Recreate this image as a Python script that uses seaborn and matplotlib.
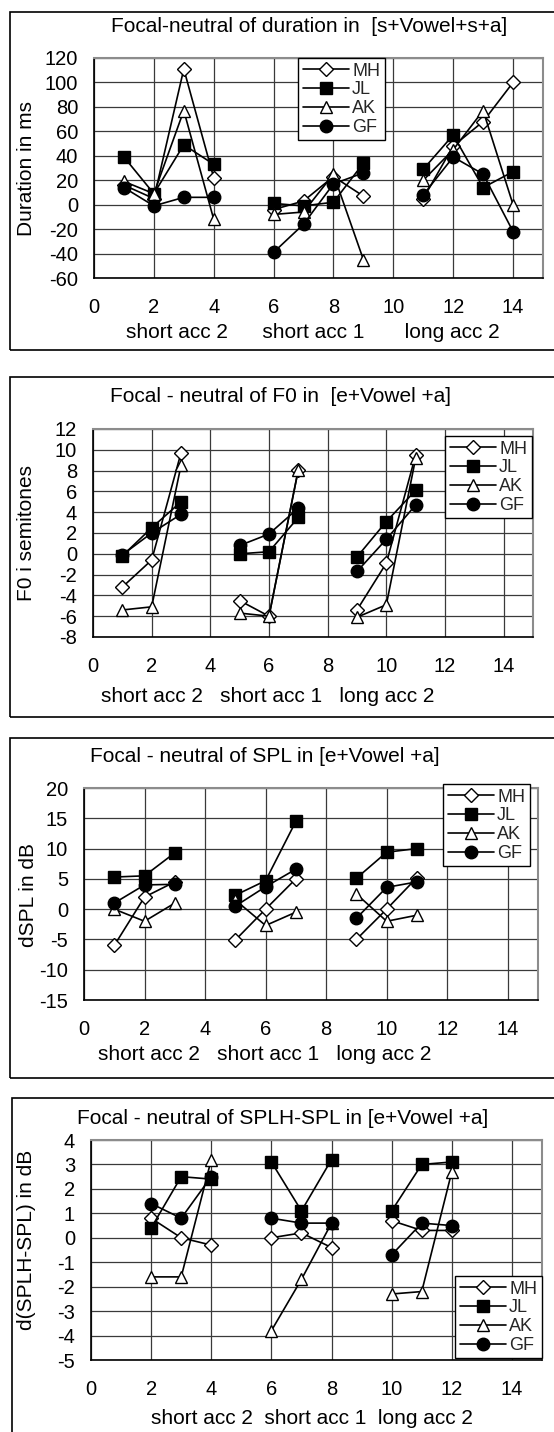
import pandas as pd
import seaborn as sns
import matplotlib.pyplot as plt
from matplotlib.lines import Line2D
from matplotlib.patches import Rectangle

sns.set_style("white")
plt.rcParams["font.family"] = ["Liberation Sans", "DejaVu Sans"]
plt.rcParams["axes.unicode_minus"] = False

# --- data -------------------------------------------------------------
speakers = ["MH", "JL", "AK", "GF"]
groups = ["short acc 2", "short acc 1", "long acc 2"]

# duration in [s+Vowel+s+a]
dur_x = [1, 2, 3, 4, 6, 7, 8, 9, 11, 12, 13, 14]
dur_MH = [16, 5, 111, 22, -4, 3, 23, 7, 5, 48, 68, 100]
dur_JL = [39, 9, 49, 33, 1, -1, 2, 34, 29, 57, 14, 27]
dur_AK = [19, 9, 77, -12, -8, -6, 25, -45, 20, 45, 77, 0]
dur_GF = [14, -1, 6, 6, -39, -16, 17, 26, 8, 39, 25, -22]

# F0 in [e+Vowel +a]
f0_x = [1, 2, 3, 5, 6, 7, 9, 10, 11]
f0_MH = [-3.2, -0.6, 9.7, -4.5, -6.0, 8.1, -5.4, -0.9, 9.5]
f0_JL = [-0.2, 2.5, 5.0, 0.0, 0.2, 3.5, -0.3, 3.1, 6.1]
f0_AK = [-5.4, -5.1, 8.5, -5.7, -6.0, 8.1, -6.1, -4.9, 9.2]
f0_GF = [-0.1, 2.0, 3.8, 0.8, 1.9, 4.4, -1.7, 1.4, 4.7]

# SPL in [e+Vowel +a]
spl_x = [1, 2, 3, 5, 6, 7, 9, 10, 11]
spl_MH = [-6, 2, 4.5, -5.1, 0, 5, -5, 0, 5.2]
spl_JL = [5.3, 5.5, 9.3, 2.3, 4.7, 14.5, 5.1, 9.4, 10]
spl_AK = [0, -2, 1, 1.5, -2.7, -0.5, 2.5, -2, -1]
spl_GF = [1, 4, 4.1, 0.5, 3.7, 6.6, -1.5, 3.6, 4.5]

# SPLH-SPL in [e+Vowel +a]
splh_x = [2, 3, 4, 6, 7, 8, 10, 11, 12]
splh_MH = [0.8, 0, -0.3, 0, 0.2, -0.4, 0.7, 0.3, 0.3]
splh_JL = [0.4, 2.5, 2.4, 3.1, 1.1, 3.2, 1.1, 3.0, 3.1]
splh_AK = [-1.6, -1.6, 3.2, -3.8, -1.7, 0.6, -2.3, -2.2, 2.7]
splh_GF = [1.4, 0.8, 2.5, 0.8, 0.6, 0.6, -0.7, 0.6, 0.5]


def long_table(xs, series):
    n = len(xs) // 3
    rows = []
    for spk, vals in zip(speakers, series):
        for i, (x, v) in enumerate(zip(xs, vals)):
            rows.append({"x": x, "value": v, "speaker": spk, "group": groups[i // n]})
    return pd.DataFrame(rows)


# --- layout (pixels) ----------------------------------------------------
W, H = 554, 1432
fig = plt.figure(figsize=(W / 100, H / 100), dpi=100)

styles = {
    "MH": dict(marker="D", markersize=6.8, markerfacecolor="white"),
    "JL": dict(marker="s", markersize=9, markerfacecolor="black"),
    "AK": dict(marker="^", markersize=9, markerfacecolor="white"),
    "GF": dict(marker="o", markersize=9, markerfacecolor="black"),
}

panels = [
    dict(df=long_table(dur_x, [dur_MH, dur_JL, dur_AK, dur_GF]),
         title="Focal-neutral of duration in  [s+Vowel+s+a]",
         ylabel="Duration in ms",
         xlabel="short acc 2      short acc 1       long acc 2",
         ylim=(-60, 120), ystep=20,
         plot=(94, 58, 543, 278), box=(10, 12, 350),
         title_pos=(309, 27), xlabel_pos=(313, 333), ylabel_pos=(27, 168),
         legend_pos=(298, 58)),
    dict(df=long_table(f0_x, [f0_MH, f0_JL, f0_AK, f0_GF]),
         title="Focal - neutral of F0 in  [e+Vowel +a]",
         ylabel="F0 i semitones",
         xlabel="short acc 2   short acc 1   long acc 2",
         ylim=(-8, 12), ystep=2,
         plot=(93, 429, 533, 637), box=(10, 377, 717),
         title_pos=(280, 397), xlabel_pos=(268, 697), ylabel_pos=(27, 533),
         legend_pos=(445, 436)),
    dict(df=long_table(spl_x, [spl_MH, spl_JL, spl_AK, spl_GF]),
         title="Focal - neutral of SPL in [e+Vowel +a]",
         ylabel="dSPL in dB",
         xlabel="short acc 2   short acc 1   long acc 2",
         ylim=(-15, 20), ystep=5,
         plot=(84, 788, 538, 1000), box=(10, 738, 1078),
         title_pos=(265, 757), xlabel_pos=(265, 1055), ylabel_pos=(28, 895),
         legend_pos=(443, 784)),
    dict(df=long_table(splh_x, [splh_MH, splh_JL, splh_AK, splh_GF]),
         title="Focal - neutral of SPLH-SPL in [e+Vowel +a]",
         ylabel="d(SPLH-SPL) in dB",
         xlabel="short acc 2  short acc 1  long acc 2",
         ylim=(-5, 4), ystep=1,
         plot=(91, 1140, 542, 1360), box=(12, 1098, 1440),
         title_pos=(283, 1118), xlabel_pos=(312, 1418), ylabel_pos=(27, 1240),
         legend_pos=(455, 1276)),
]

for p in panels:
    l, t, r, b = p["plot"]
    ax = fig.add_axes([l / W, 1 - b / H, (r - l) / W, (b - t) / H])

    # outer chart frame
    bl, bt, bb = p["box"]
    fig.add_artist(Rectangle((bl / W, 1 - bb / H), (W + 20 - bl) / W, (bb - bt) / H,
                             transform=fig.transFigure, fill=False,
                             edgecolor="black", linewidth=1.2, zorder=0))

    for z, spk in enumerate(speakers):
        sub = p["df"][p["df"]["speaker"] == spk]
        sns.lineplot(data=sub, x="x", y="value", units="group", estimator=None,
                     color="black", linewidth=1.2, markeredgecolor="black",
                     markeredgewidth=1.0, legend=False, ax=ax, zorder=3 + z,
                     **styles[spk])

    y0, y1 = p["ylim"]
    ax.set_xlim(0, 15)
    ax.set_ylim(y0, y1)
    ax.set_xticks(range(0, 15, 2))
    ax.set_yticks(range(y0, y1 + 1, p["ystep"]))
    ax.grid(True, color="#3a3a3a", linewidth=0.9)
    ax.set_axisbelow(True)
    for side in ["left", "bottom"]:
        ax.spines[side].set_color("black")
        ax.spines[side].set_linewidth(1.2)
    for side in ["top", "right"]:
        ax.spines[side].set_color("#8c8c8c")
        ax.spines[side].set_linewidth(1.5)
    ax.tick_params(axis="both", direction="inout", length=8, width=1.0,
                   color="black", labelsize=14.5, labelcolor="black")
    ax.tick_params(axis="x", pad=10.5)
    ax.tick_params(axis="y", pad=7.5)

    def axfrac(px, py):
        return (px - l) / (r - l), (b - py) / (b - t)

    tx, ty = axfrac(*p["title_pos"])
    ax.set_title(p["title"], fontsize=15, color="black", va="center",
                 x=tx, y=ty, pad=0)
    ax.set_xlabel(p["xlabel"], fontsize=15, color="black", va="center")
    ax.xaxis.set_label_coords(*axfrac(*p["xlabel_pos"]))
    ax.set_ylabel(p["ylabel"], fontsize=15, color="black", va="center")
    ax.yaxis.set_label_coords(*axfrac(*p["ylabel_pos"]))

    handles = [Line2D([], [], color="black", linewidth=1.2, markeredgecolor="black",
                      markeredgewidth=1.0, **styles[s]) for s in speakers]
    lx, ly = p["legend_pos"]
    leg = ax.legend(handles, speakers, loc="upper left",
                    bbox_to_anchor=(lx / W, 1 - ly / H), bbox_transform=fig.transFigure,
                    borderaxespad=0, fontsize=13, frameon=True, fancybox=False,
                    edgecolor="black", framealpha=1, handlelength=2.6,
                    handletextpad=0.15, labelspacing=0.1, borderpad=0.25)
    leg.get_frame().set_linewidth(1.0)
    leg.set_zorder(10)

fig.savefig("out.png", dpi=100)
